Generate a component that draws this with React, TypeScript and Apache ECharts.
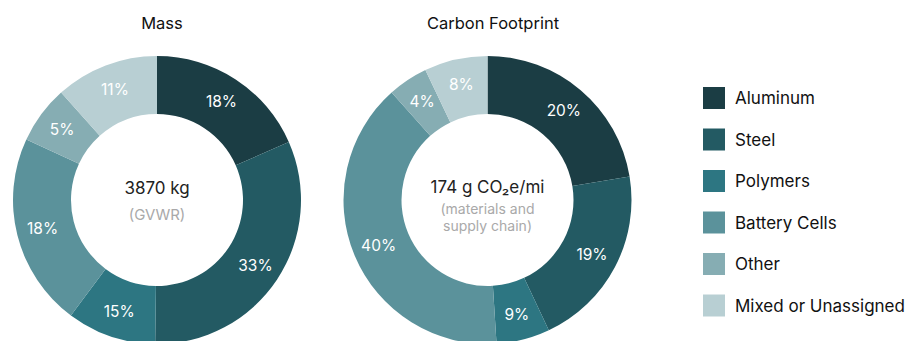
import React, { useEffect, useRef } from "react";
import * as echarts from "echarts";

const categories = ["Aluminum", "Steel", "Polymers", "Battery Cells", "Other", "Mixed or Unassigned"];
// slice sizes as drawn (share of the ring)
const massValues = [18.4, 31.8, 10.0, 21.7, 6.5, 11.6];
const carbonValues = [22.4, 20.6, 6.0, 39.4, 4.5, 7.1];
// percentages printed on the slices
const massLabels = ["18%", "33%", "15%", "18%", "5%", "11%"];
const carbonLabels = ["20%", "19%", "9%", "40%", "4%", "8%"];
const colors = ["#1b3d44", "#235a63", "#2d7682", "#5b929b", "#86adb3", "#b8cfd3"];
const titles = ["Mass", "Carbon Footprint"];
const massCenterText = ["3870 kg", "(GVWR)"];
const carbonCenterText = ["174 g CO₂e/mi", "(materials and", "supply chain)"];

const FONT = "Inter, 'Noto Sans', sans-serif";

export default function App() {
  const ref = useRef<HTMLDivElement>(null);
  useEffect(() => {
    document.body.style.margin = "0";
    const chart = echarts.init(ref.current!, null, { renderer: "svg" });
    const mkSeries = (name: string, vals: number[], labels: string[], cx: number) => ({
      type: "pie",
      name,
      center: [cx, 200],
      radius: [86, 144],
      startAngle: 90,
      clockwise: true,
      data: categories.map((c, i) => ({ name: c, value: vals[i], itemStyle: { color: colors[i] } })),
      label: {
        show: true,
        position: "inside",
        formatter: (p: any) => labels[p.dataIndex],
        color: "#ffffff",
        fontSize: 15.5,
        fontFamily: FONT,
      },
      labelLine: { show: false },
      emphasis: { disabled: true },
      itemStyle: { borderWidth: 0 },
    });
    const grayStyle = { fill: "#a9a9a9", fontSize: 14, fontFamily: FONT, textAlign: "center", textVerticalAlign: "middle" };
    const darkStyle = { fill: "#222222", fontSize: 17, fontFamily: FONT, textAlign: "center", textVerticalAlign: "middle" };
    chart.setOption({
      animation: false,
      color: colors,
      title: [
        { text: titles[0], left: 157, top: 9, textAlign: "center", textStyle: { fontSize: 16.5, fontWeight: "normal", color: "#111", fontFamily: FONT } },
        { text: titles[1], left: 488, top: 9, textAlign: "center", textStyle: { fontSize: 16.5, fontWeight: "normal", color: "#111", fontFamily: FONT } },
      ],
      legend: {
        orient: "vertical",
        left: 698,
        top: 82,
        icon: "rect",
        itemWidth: 22,
        itemHeight: 22,
        itemGap: 19.5,
        data: categories,
        selectedMode: false,
        textStyle: { fontSize: 17, color: "#111", fontFamily: FONT, padding: [0, 0, 0, 5] },
      },
      graphic: [
        { type: "text", x: 157, y: 188, style: { text: massCenterText[0], ...darkStyle } },
        { type: "text", x: 157, y: 214, style: { text: massCenterText[1], ...grayStyle, fontSize: 15 } },
        { type: "text", x: 487.5, y: 187, style: { text: carbonCenterText[0], ...darkStyle } },
        { type: "text", x: 487.5, y: 208, style: { text: carbonCenterText[1], ...grayStyle } },
        { type: "text", x: 487.5, y: 225.5, style: { text: carbonCenterText[2], ...grayStyle } },
      ],
      series: [
        mkSeries("Mass", massValues, massLabels, 157),
        mkSeries("Carbon Footprint", carbonValues, carbonLabels, 487.5),
      ],
    });
    return () => chart.dispose();
  }, []);
  return <div ref={ref} style={{ width: 922, height: 341 }} />;
}
